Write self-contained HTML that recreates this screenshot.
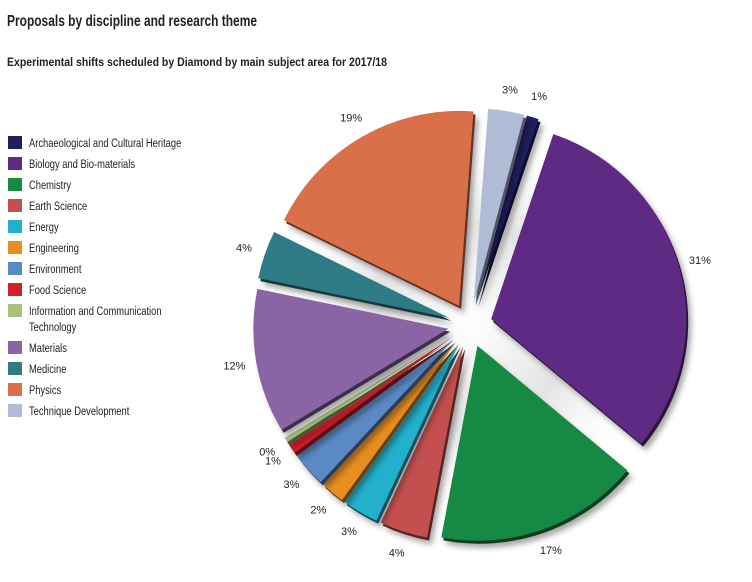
<!DOCTYPE html>
<html><head><meta charset="utf-8"><style>
html,body{margin:0;padding:0;background:#fff;}
svg{display:block;font-family:"Liberation Sans Narrow","Liberation Sans",sans-serif;}
</style></head><body>
<svg id="chart" width="752" height="582" viewBox="0 0 752 582" xmlns="http://www.w3.org/2000/svg">
<defs>
<filter id="sh" x="-20%" y="-20%" width="140%" height="140%"><feDropShadow dx="3" dy="4" stdDeviation="3" flood-color="#000" flood-opacity="0.35"/></filter>
<radialGradient id="glow"><stop offset="0" stop-color="#fff"/><stop offset="0.5" stop-color="#e4e4e4"/><stop offset="1" stop-color="#fff" stop-opacity="0"/></radialGradient>
</defs>
<text x="7" y="26" font-size="16" font-weight="bold" fill="#222" textLength="250" lengthAdjust="spacingAndGlyphs">Proposals by discipline and research theme</text>
<text x="7" y="66" font-size="12" font-weight="bold" fill="#222" textLength="380" lengthAdjust="spacingAndGlyphs">Experimental shifts scheduled by Diamond by main subject area for 2017/18</text>
<g id="legend"></g>
<circle cx="470" cy="325" r="200" fill="url(#glow)"/>
<g id="slices"></g>
<g id="labels"></g>
</svg>
<script>
const categories=["Archaeological and Cultural Heritage","Biology and Bio-materials","Chemistry","Earth Science","Energy","Engineering","Environment","Food Science","Information and Communication Technology","Materials","Medicine","Physics","Technique Development"];
const values=[1,31,17,4,3,2,3,1,0.4,12,4,19,3];
const valueLabels=["1%","31%","17%","4%","3%","2%","3%","1%","0%","12%","4%","19%","3%"];
const colors=["#1f1f5e","#5e2a84","#168a45","#c34f4f","#22b0cc","#e88e20","#5b89c4","#d4202a","#a8c27a","#8a64a5","#2f7b85","#d9704a","#b0bcd5"];
const NS="http://www.w3.org/2000/svg";
const cx=470,cy=325,R=195,EXP=22,START=15;
function shade(hex,f){const n=parseInt(hex.slice(1),16);const r=Math.round(((n>>16)&255)*f),g=Math.round(((n>>8)&255)*f),b=Math.round((n&255)*f);return "rgb("+r+","+g+","+b+")";}
function pt(a,r,ox,oy){const t=(a-90)*Math.PI/180;return [ox+r*Math.cos(t),oy+r*Math.sin(t)];}
const total=values.reduce((s,v)=>s+v,0);
const sl=document.getElementById('slices'),lb=document.getElementById('labels'),lg=document.getElementById('legend');
let ang=START;
values.forEach((v,i)=>{
  const sweep=v/total*360,mid=ang+sweep/2;
  const [ox,oy]=pt(mid,EXP,cx,cy);
  const p1=pt(ang,R,ox,oy),p2=pt(ang+sweep,R,ox,oy);
  const large=sweep>180?1:0;
  const d="M"+ox+","+oy+" L"+p1[0]+","+p1[1]+" A"+R+","+R+" 0 "+large+" 1 "+p2[0]+","+p2[1]+" Z";
  const back=document.createElementNS(NS,'path');
  back.setAttribute('d',d);back.setAttribute('fill',shade(colors[i],0.45));
  back.setAttribute('transform','translate(2,3)');back.setAttribute('filter','url(#sh)');
  
  
  sl.appendChild(back);
  const p=document.createElementNS(NS,'path');
  p.setAttribute('d',d);p.setAttribute('fill',colors[i]);
  
  
  sl.appendChild(p);
  const lp=pt(mid,R+EXP+22,cx,cy);
  const t=document.createElementNS(NS,'text');
  t.setAttribute('x',lp[0]);t.setAttribute('y',lp[1]+4);t.setAttribute('text-anchor','middle');
  t.setAttribute('font-size','11');t.setAttribute('fill','#222');t.textContent=valueLabels[i];
  
  
  lb.appendChild(t);
  ang+=sweep;
});
let y=136;
categories.forEach((c,i)=>{
  const r=document.createElementNS(NS,'rect');
  r.setAttribute('x',8);r.setAttribute('y',y);r.setAttribute('width',14);r.setAttribute('height',13);r.setAttribute('fill',colors[i]);
  
  
  lg.appendChild(r);
  const lines=c==="Information and Communication Technology"?["Information and Communication","Technology"]:[c];
  lines.forEach((ln,k)=>{
    const t=document.createElementNS(NS,'text');
    t.setAttribute('x',29/0.78);t.setAttribute('y',y+11+k*16);t.setAttribute('font-size','12');t.setAttribute('fill','#222');
    t.setAttribute('transform','scale(0.78,1)');t.textContent=ln;
    
    
    lg.appendChild(t);
  });
  y+=21+(lines.length-1)*16;
});
</script>
</body></html>
